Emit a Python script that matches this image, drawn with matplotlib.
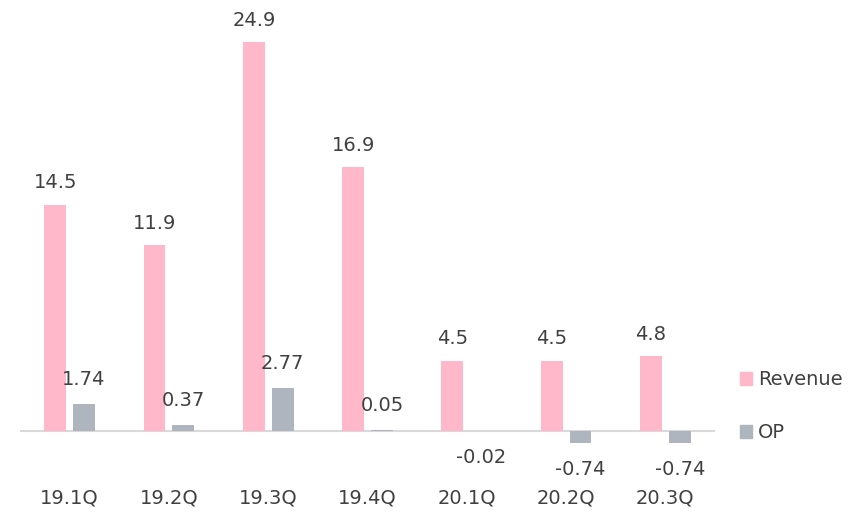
import matplotlib
matplotlib.use("Agg")
import matplotlib.pyplot as plt
from matplotlib.patches import Patch

# data
quarters = ["19.1Q", "19.2Q", "19.3Q", "19.4Q", "20.1Q", "20.2Q", "20.3Q"]
revenue = [14.5, 11.9, 24.9, 16.9, 4.5, 4.5, 4.8]
op = [1.74, 0.37, 2.77, 0.05, -0.02, -0.74, -0.74]

pink = "#FFB7C9"
grey = "#AEB5BF"
txt = "#404040"

plt.rcParams['font.family'] = ['DejaVu Sans']

fig = plt.figure(figsize=(8.59, 5.18), dpi=100)
ax = fig.add_axes([20 / 859, 48 / 518, 695 / 859, 470 / 518])

x = list(range(len(quarters)))
w = 0.22
off = 0.145
ax.bar([i - off for i in x], revenue, width=w, color=pink, zorder=2)
ax.bar([i + off for i in x], op, width=w, color=grey, zorder=2)
ax.axhline(0, color="#D9D9D9", lw=1.5, zorder=1)

fs = 14
for i, v in enumerate(revenue):
    ax.text(i - off, v + 1.4, f"{v}", ha="center", va="center", fontsize=fs, color=txt)
for i, v in enumerate(op):
    if v >= 0:
        ax.text(i + off, v + 1.55, f"{v:.2f}", ha="center", va="center", fontsize=fs, color=txt)
    else:
        ax.text(i + off, v - 1.7, f"{v:.2f}", ha="center", va="center", fontsize=fs, color=txt)

ax.set_xlim(-0.5, 6.5)
ax.set_ylim(-2.5, 27.6)
ax.set_xticks(x)
ax.set_xticklabels(quarters, fontsize=fs, color=txt)
ax.tick_params(axis="x", length=0, pad=13)
ax.set_yticks([])
for s in ax.spines.values():
    s.set_visible(False)

handles = [Patch(color=pink, label="Revenue"), Patch(color=grey, label="OP")]
fig.legend(handles=handles, loc="center left", bbox_to_anchor=(722 / 859, 1 - 406 / 518),
           frameon=False, fontsize=fs, handlelength=0.65, handleheight=0.65,
           handletextpad=0.3, labelspacing=1.75, labelcolor=txt)

fig.savefig("out.png", dpi=100)
